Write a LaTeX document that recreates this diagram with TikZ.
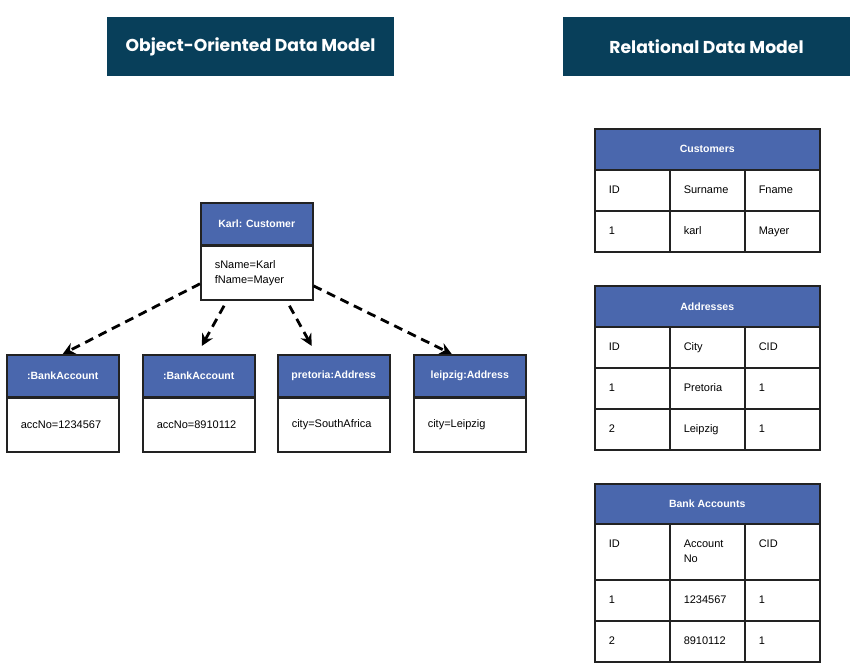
\documentclass[tikz,border=0pt]{standalone}
\usepackage{fontspec}
\setmainfont{Liberation Sans}
\newfontfamily\titlefont{Poppins}
\usetikzlibrary{positioning,arrows.meta}

\definecolor{titlebg}{HTML}{083F5A}
\definecolor{headblue}{HTML}{4A67AD}
\definecolor{edge}{HTML}{222222}

\begin{document}
\begin{tikzpicture}[x=1pt,y=-1pt,
  title/.style={fill=titlebg, minimum width=287pt, minimum height=59pt, text=white, font=\titlefont\bfseries\fontsize{17.2}{20}\selectfont},
  objhead/.style={draw=edge, line width=1.5pt, fill=headblue, text=white, minimum width=112pt, minimum height=41.5pt, font=\bfseries\fontsize{10.5}{13}\selectfont, anchor=north west},
  objbody/.style={draw=edge, line width=1.5pt, fill=white, minimum width=112pt, minimum height=54pt, text width=84pt, inner xsep=14pt, align=left, font=\fontsize{11}{15}\selectfont},
  tabhead/.style={draw=edge, line width=1.5pt, fill=headblue, text=white, minimum width=225pt, minimum height=41pt, font=\bfseries\fontsize{10.5}{13}\selectfont, anchor=north west},
  cell/.style={draw=edge, line width=1.5pt, minimum width=75pt, minimum height=41pt, text width=47pt, inner xsep=14pt, align=left, anchor=north west, font=\fontsize{11}{15}\selectfont, execute at begin node=\strut, execute at end node=\strut},
  link/.style={line width=2.8pt, dash pattern=on 9pt off 6pt, -{Stealth[length=12pt,width=12pt,inset=4pt]}}
]
\useasboundingbox (0,0) rectangle (865,670);

% Titles
\node[title] (ootitle) at (250.5,46.5) {Object-Oriented Data Model};
\node[title] (reltitle) at (706.5,46.5) {Relational Data Model};

% Objects
\node[objhead] (karl) at (200,202) {Karl: Customer};
\node[objbody, below=0pt of karl] (karlbody) {sName=Karl\\fName=Mayer};

\node[objhead] (acc1) at (6,354) {:BankAccount};
\node[objbody, below=0pt of acc1] (acc1body) {accNo=1234567};

\node[objhead] (acc2) at (142,354) {:BankAccount};
\node[objbody, below=0pt of acc2] (acc2body) {accNo=8910112};

\node[objhead] (addr1) at (277,354) {pretoria:Address};
\node[objbody, below=0pt of addr1] (addr1body) {city=SouthAfrica};

\node[objhead] (addr2) at (413,354) {leipzig:Address};
\node[objbody, below=0pt of addr2] (addr2body) {city=Leipzig};

% Links from the customer object
\draw[link] (karlbody.191) -- (acc1.north);
\draw[link, shorten <=6pt] (karlbody.223) -- ([shift={(3,-8)}]acc2.north);
\draw[link, shorten <=6pt] (karlbody.317) -- ([shift={(-22,-8)}]addr1.north);
\draw[link] (karlbody.347) -- ([shift={(-18,0)}]addr2.north);

% Table Customers
\node[tabhead] (cust) at (594,128) {Customers};
\node[cell] (cust11) at (594,169) {ID};
\node[cell] (cust12) at (669,169) {Surname};
\node[cell] (cust13) at (744,169) {Fname};
\node[cell] (cust21) at (594,210) {1};
\node[cell] (cust22) at (669,210) {karl};
\node[cell] (cust23) at (744,210) {Mayer};

% Table Addresses
\node[tabhead] (addr) at (594,285) {Addresses};
\node[cell] (addr11) at (594,326) {ID};
\node[cell] (addr12) at (669,326) {City};
\node[cell] (addr13) at (744,326) {CID};
\node[cell] (addr21) at (594,367) {1};
\node[cell] (addr22) at (669,367) {Pretoria};
\node[cell] (addr23) at (744,367) {1};
\node[cell] (addr31) at (594,408) {2};
\node[cell] (addr32) at (669,408) {Leipzig};
\node[cell] (addr33) at (744,408) {1};

% Table Bank Accounts
\node[tabhead, minimum height=40pt] (bank) at (594,483) {Bank Accounts};
\node[cell, minimum height=56pt] (bank11) at (594,523) {ID\\\phantom{No}};
\node[cell, minimum height=56pt] (bank12) at (669,523) {Account\\No};
\node[cell, minimum height=56pt] (bank13) at (744,523) {CID\\\phantom{No}};
\node[cell] (bank21) at (594,579) {1};
\node[cell] (bank22) at (669,579) {1234567};
\node[cell] (bank23) at (744,579) {1};
\node[cell] (bank31) at (594,620) {2};
\node[cell] (bank32) at (669,620) {8910112};
\node[cell] (bank33) at (744,620) {1};

\end{tikzpicture}
\end{document}
